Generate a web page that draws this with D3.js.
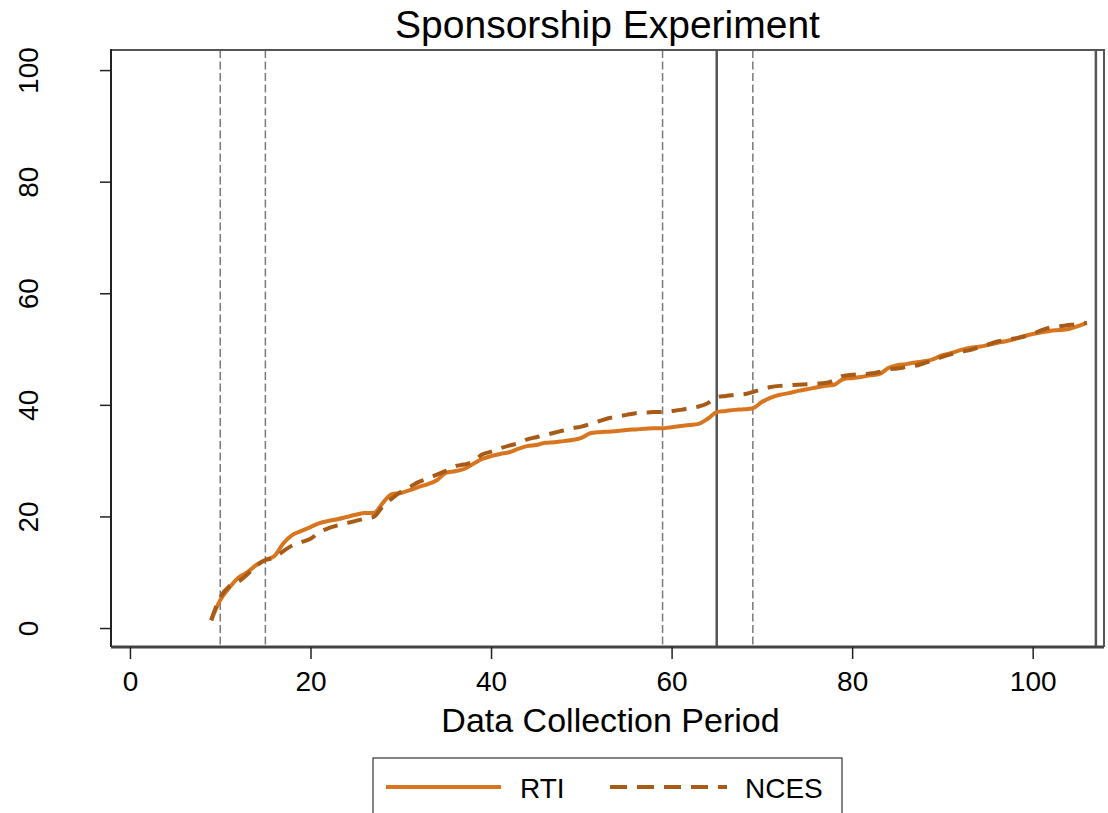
<!DOCTYPE html>
<html>
  <head>
    <script src="https://cdn.jsdelivr.net/npm/d3@7"></script>
    <style>
      body { margin: 0; background: #fff; }
      text { font-family: "Liberation Sans", Arial, sans-serif; fill: #000; }
    </style>
  </head>
  <body>
    <svg id="chart" width="1108" height="813"></svg>
    <script>
    // data collection periods (first period with responses is 9)
    var periods = d3.range(9, 107);

    var rti = [1.4, 5.0, 7.2, 9.0, 10.0, 11.3, 12.2, 12.9, 15.2, 16.7,
      17.4, 18.1, 18.8, 19.2, 19.5, 19.9, 20.3, 20.6, 20.6, 22.4,
      24.0, 24.2, 24.7, 25.3, 25.8, 26.5, 27.8, 28.1, 28.5, 29.4,
      30.3, 30.8, 31.2, 31.5, 32.1, 32.6, 32.8, 33.2, 33.3, 33.5,
      33.7, 34.1, 34.9, 35.1, 35.2, 35.3, 35.5, 35.6, 35.7, 35.8,
      35.8, 36.0, 36.2, 36.4, 36.6, 37.5, 38.7, 38.9, 39.1, 39.2,
      39.4, 40.5, 41.3, 41.8, 42.1, 42.5, 42.8, 43.1, 43.4, 43.6,
      44.6, 44.8, 45.0, 45.3, 45.5, 46.6, 47.1, 47.3, 47.6, 47.8,
      48.2, 48.9, 49.3, 49.8, 50.2, 50.4, 50.7, 51.1, 51.4, 51.8,
      52.3, 52.7, 53.0, 53.3, 53.4, 53.6, 54.1, 54.7];

    var nces = [1.4, 5.5, 7.5, 8.3, 9.6, 11.2, 12.2, 12.6, 13.8, 14.8,
      15.4, 16.0, 17.2, 17.9, 18.4, 18.8, 19.2, 19.6, 19.9, 21.8,
      23.2, 24.4, 25.3, 26.2, 26.8, 27.5, 28.2, 29.0, 29.3, 29.8,
      31.1, 31.6, 32.2, 32.7, 33.1, 33.8, 34.2, 34.6, 35.0, 35.4,
      35.8, 36.1, 36.6, 37.1, 37.6, 37.9, 38.2, 38.5, 38.6, 38.7,
      38.7, 38.9, 39.1, 39.4, 39.7, 40.3, 41.4, 41.6, 41.8, 41.9,
      42.3, 42.8, 43.2, 43.4, 43.5, 43.6, 43.7, 43.8, 43.9, 44.4,
      45.2, 45.4, 45.5, 45.6, 45.9, 46.4, 46.5, 46.8, 47.0, 47.5,
      48.0, 48.6, 49.1, 49.5, 49.8, 50.3, 50.8, 51.3, 51.6, 51.9,
      52.2, 52.7, 53.4, 53.9, 54.1, 54.3, 54.5, 54.7];

    var xTicks = [0, 20, 40, 60, 80, 100];
    var yTicks = [0, 20, 40, 60, 80, 100];
    var dashedRefs = [10, 15, 59, 69];
    var solidRefs = [65, 107];

    var svg = d3.select("#chart");
    var plotL = 111, plotR = 1104, plotT = 50, plotB = 647;

    var x = d3.scaleLinear().domain([-2.1, 107.9]).range([plotL, plotR]);
    var y = d3.scaleLinear().domain([-3.4, 103.6]).range([plotB, plotT]);

    var rtiColor = "#d8761f", ncesColor = "#a85a17";

    // title
    svg.append("text")
      .attr("x", (plotL + plotR) / 2).attr("y", 38)
      .attr("text-anchor", "middle")
      .style("font-size", "39px")
      .text("Sponsorship Experiment");

    // reference lines
    svg.append("g").selectAll("line")
      .data(dashedRefs)
      .enter().append("line")
      .attr("x1", d => x(d)).attr("x2", d => x(d))
      .attr("y1", plotT).attr("y2", plotB)
      .attr("stroke", "#7a7a7a")
      .attr("stroke-width", 1.5)
      .attr("stroke-dasharray", "8,3.5");

    svg.append("g").selectAll("line")
      .data(solidRefs)
      .enter().append("line")
      .attr("x1", d => x(d)).attr("x2", d => x(d))
      .attr("y1", plotT).attr("y2", plotB)
      .attr("stroke", "#555")
      .attr("stroke-width", 2.5);

    // series
    var line = d3.line()
      .x((d, i) => x(periods[i]))
      .y(d => y(d))
      .curve(d3.curveMonotoneX);

    svg.append("path")
      .datum(rti)
      .attr("d", line)
      .attr("fill", "none")
      .attr("stroke", rtiColor)
      .attr("stroke-width", 4);

    svg.append("path")
      .datum(nces)
      .attr("d", line)
      .attr("fill", "none")
      .attr("stroke", ncesColor)
      .attr("stroke-width", 4)
      .attr("stroke-dasharray", "15,10");

    // frame
    svg.append("path")
      .attr("d", "M" + plotL + "," + plotB + "V" + plotT + "H" + plotR + "V" + plotB)
      .attr("fill", "none")
      .attr("stroke", "#555")
      .attr("stroke-width", 2);
    svg.append("line")
      .attr("x1", plotL).attr("x2", plotL).attr("y1", plotT - 1).attr("y2", plotB)
      .attr("stroke", "#222").attr("stroke-width", 2);

    // axes
    var xAxis = svg.append("g")
      .attr("transform", "translate(0," + plotB + ")")
      .call(d3.axisBottom(x).tickValues(xTicks).tickSize(12).tickPadding(12));
    xAxis.select(".domain")
      .attr("d", "M" + plotL + ",0H" + plotR)
      .attr("stroke", "#444").attr("stroke-width", 3);
    xAxis.selectAll(".tick line").attr("stroke", "#222").attr("stroke-width", 1.5);
    xAxis.selectAll(".tick text")
      .style("font-size", "28px")
      .style("font-family", "'Liberation Sans', Arial, sans-serif")
      .attr("fill", "#000");

    var yAxis = svg.append("g")
      .attr("transform", "translate(" + plotL + ",0)")
      .call(d3.axisLeft(y).tickValues(yTicks).tickSize(11));
    yAxis.select(".domain").remove();
    yAxis.selectAll(".tick line").attr("stroke", "#222").attr("stroke-width", 1.5);
    yAxis.selectAll(".tick text")
      .attr("x", null).attr("dy", null)
      .attr("text-anchor", "middle")
      .attr("transform", "translate(" + (38 - plotL) + ",0) rotate(-90)")
      .attr("y", 0)
      .style("font-size", "28px")
      .style("font-family", "'Liberation Sans', Arial, sans-serif")
      .attr("fill", "#000");

    svg.append("text")
      .attr("x", (plotL + plotR) / 2 + 3).attr("y", 732)
      .attr("text-anchor", "middle")
      .style("font-size", "34px")
      .text("Data Collection Period");

    // legend
    var legend = svg.append("g");
    legend.append("rect")
      .attr("x", 373).attr("y", 758)
      .attr("width", 469).attr("height", 80)
      .attr("fill", "#fff").attr("stroke", "#333").attr("stroke-width", 1.2);

    var items = [
      {name: "RTI", color: rtiColor, dash: null, x0: 386, x1: 501, tx: 520},
      {name: "NCES", color: ncesColor, dash: "17,10", x0: 610, x1: 727, tx: 745}
    ];
    items.forEach(function(it) {
      legend.append("line")
        .attr("x1", it.x0).attr("x2", it.x1)
        .attr("y1", 787).attr("y2", 787)
        .attr("stroke", it.color).attr("stroke-width", 4)
        .attr("stroke-dasharray", it.dash);
      legend.append("text")
        .attr("x", it.tx).attr("y", 798)
        .style("font-size", "28px")
        .text(it.name);
    });
    </script>
  </body>
</html>
